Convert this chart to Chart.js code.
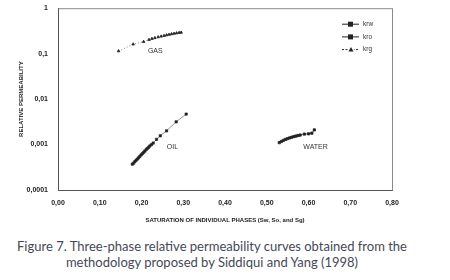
<!DOCTYPE html>
<html>
<head>
<meta charset="utf-8">
<script src="https://cdn.jsdelivr.net/npm/chart.js@4/dist/chart.umd.min.js"></script>
<style>
  body { margin: 0; background: #fff; width: 450px; height: 280px; overflow: hidden; }
  #wrap { position: relative; width: 450px; height: 230px; margin-top: -6px; }
  .caption { width: 424px; text-align: center; font-family: 'Lato', sans-serif; font-weight: 400; font-size: 13px; line-height: 16px; color: #454856; margin-top: 14px; }
</style>
</head>
<body>
<div id="wrap"><canvas id="chart" width="450" height="230"></canvas></div>
<div class="caption">Figure 7. Three-phase relative permeability curves obtained from the<br>methodology proposed by Siddiqui and Yang (1998)</div>
<script>
// values
const gasSat = [0.145, 0.18, 0.205, 0.218, 0.225, 0.232, 0.24, 0.247, 0.254, 0.26, 0.266, 0.272, 0.278, 0.284, 0.29, 0.295];
const krg = [0.114, 0.161, 0.183, 0.203, 0.213, 0.222, 0.232, 0.24, 0.248, 0.256, 0.263, 0.27, 0.277, 0.283, 0.289, 0.293];

const oilSat = [0.178, 0.181, 0.184, 0.187, 0.19, 0.193, 0.196, 0.199, 0.202, 0.205, 0.208, 0.211, 0.214, 0.217, 0.22, 0.224, 0.228, 0.236, 0.245, 0.26, 0.283, 0.307];
const kro = [0.00037, 0.00039, 0.00042, 0.00045, 0.00048, 0.00051, 0.00055, 0.00059, 0.00063, 0.00067, 0.00072, 0.00077, 0.00082, 0.00087, 0.00093, 0.001, 0.00108, 0.0013, 0.00156, 0.002, 0.00316, 0.00468];

const waterSat = [0.53, 0.535, 0.54, 0.545, 0.55, 0.555, 0.56, 0.565, 0.57, 0.575, 0.58, 0.59, 0.6, 0.608, 0.614];
const krw = [0.0011, 0.00117, 0.00124, 0.0013, 0.00135, 0.0014, 0.00145, 0.0015, 0.00154, 0.00158, 0.00162, 0.0017, 0.00172, 0.00178, 0.0021];

const yTicks = [0.0001, 0.001, 0.01, 0.1, 1];
const yTickLabels = ['0,0001', '0,001', '0,01', '0,1', '1'];
const phaseLabels = ['GAS', 'OIL', 'WATER'];
const phaseLabelX = [0.233, 0.274, 0.617];
const phaseLabelY = [0.112, 0.00088, 0.00088];
const legendNames = ['krw', 'kro', 'krg'];

const toPoints = (xs, ys) => xs.map((x, i) => ({ x: x, y: ys[i] }));

const ink = '#222';
const tickFont = { family: 'Liberation Sans', size: 7, weight: 'bold' };
const titleFont = { family: 'Liberation Sans', size: 6, weight: 'bold' };

const extras = {
  id: 'extras',
  afterDraw(chart) {
    const ctx = chart.ctx;
    const a = chart.chartArea;
    const xs = chart.scales.x, ys = chart.scales.y;
    ctx.save();
    // frame
    ctx.strokeStyle = '#8a8a8a';
    ctx.lineWidth = 1;
    ctx.strokeRect(a.left + 0.5, a.top + 0.5, a.right - a.left, a.bottom - a.top);
    ctx.strokeStyle = '#555';
    ctx.beginPath();
    ctx.moveTo(a.left + 0.5, a.top);
    ctx.lineTo(a.left + 0.5, a.bottom + 0.5);
    ctx.lineTo(a.right + 0.5, a.bottom + 0.5);
    ctx.stroke();

    // phase names
    ctx.fillStyle = '#333';
    ctx.font = '7px "Liberation Sans"';
    ctx.textAlign = 'center';
    ctx.textBaseline = 'middle';
    phaseLabels.forEach((t, i) => {
      ctx.fillText(t, xs.getPixelForValue(phaseLabelX[i]), ys.getPixelForValue(phaseLabelY[i]));
    });

    // legend
    const lx = a.right - 50, ly = a.top + 16;
    ctx.textAlign = 'left';
    ctx.font = '6.5px "Liberation Sans"';
    chart.data.datasets.forEach((ds, i) => {
      const y = ly + i * 12.7;
      ctx.strokeStyle = ink;
      ctx.lineWidth = 1;
      ctx.setLineDash(ds.pointStyle === 'triangle' ? [2, 1.5] : []);
      ctx.beginPath();
      ctx.moveTo(lx, y);
      ctx.lineTo(lx + 17, y);
      ctx.stroke();
      ctx.setLineDash([]);
      ctx.fillStyle = ink;
      if (ds.pointStyle === 'triangle') {
        ctx.fillStyle = '#fff';
        ctx.fillRect(lx + 6, y - 3, 6, 6);
        ctx.fillStyle = ink;
        ctx.beginPath();
        ctx.moveTo(lx + 9, y - 2.5);
        ctx.lineTo(lx + 11.5, y + 2);
        ctx.lineTo(lx + 6.5, y + 2);
        ctx.closePath();
        ctx.fill();
      } else {
        ctx.fillRect(lx + 6, y - 2.5, 5, 5);
      }
      ctx.fillStyle = '#333';
      ctx.fillText(legendNames[i], lx + 21, y);
    });
    ctx.restore();
  }
};

new Chart(document.getElementById('chart'), {
  type: 'scatter',
  data: {
    datasets: [
      { label: 'krw', data: toPoints(waterSat, krw), showLine: true, borderColor: '#444', borderWidth: 0.8,
        pointStyle: 'rect', pointRadius: 1.6, backgroundColor: ink, pointBorderColor: ink },
      { label: 'kro', data: toPoints(oilSat, kro), showLine: true, borderColor: '#666', borderWidth: 0.7,
        pointStyle: 'rect', pointRadius: 1.6, backgroundColor: ink, pointBorderColor: ink },
      { label: 'krg', data: toPoints(gasSat, krg), showLine: true, borderColor: '#666', borderWidth: 0.8,
        borderDash: [1, 2], pointStyle: 'triangle', pointRadius: 1.5, backgroundColor: ink, pointBorderColor: ink }
    ]
  },
  options: {
    responsive: false,
    animation: false,
    layout: { padding: { top: 0, right: 58, left: 0, bottom: 0 } },
    plugins: { legend: { display: false }, tooltip: { enabled: false } },
    scales: {
      x: {
        type: 'linear', min: 0, max: 0.8,
        grid: { display: false, drawTicks: false },
        border: { display: false },
        ticks: { stepSize: 0.1, padding: 9, color: ink, font: tickFont,
          callback: (v) => v.toFixed(2).replace('.', ',') },
        title: { display: true, text: 'SATURATION OF INDIVIDUAL PHASES (Sw, So, and Sg)', color: ink, font: titleFont, padding: { top: 1, bottom: 0 } },
        afterFit: (s) => { s.height = 34; }
      },
      y: {
        type: 'logarithmic', min: 0.0001, max: 1,
        grid: { display: false, drawTicks: false },
        border: { display: false },
        afterBuildTicks: (s) => { s.ticks = yTicks.map((v) => ({ value: v })); },
        ticks: { padding: 10, color: ink, font: tickFont,
          callback: (v) => yTickLabels[yTicks.indexOf(v)] },
        title: { display: true, text: 'RELATIVE PERMEABILITY', color: ink, font: titleFont, padding: { top: 18, bottom: 0 } },
        afterFit: (s) => { s.width = 58; }
      }
    }
  },
  plugins: [extras]
});
</script>
</body>
</html>
